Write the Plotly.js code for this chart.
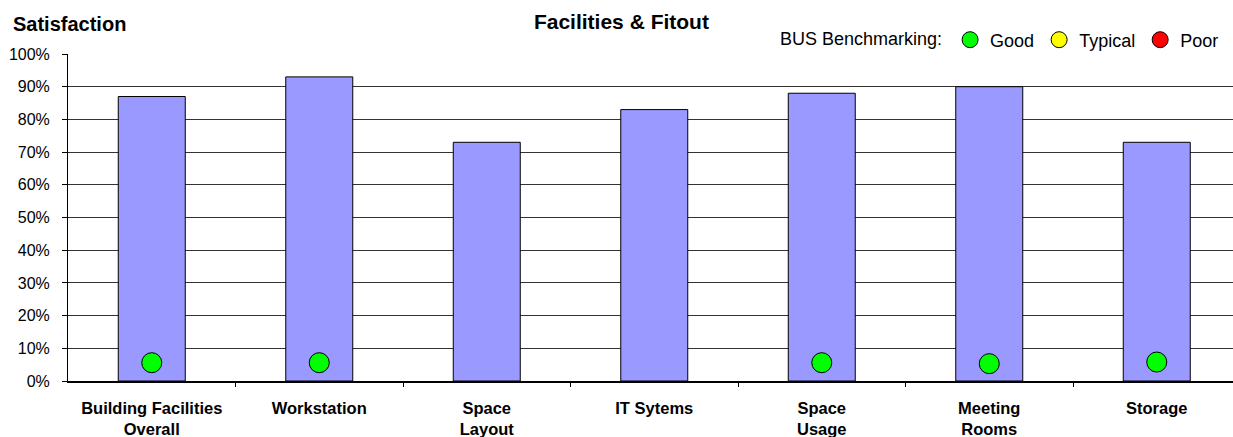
<!DOCTYPE html>
<html>
<head>
<meta charset="utf-8">
<script src="https://cdn.plot.ly/plotly-3.0.1.min.js"></script>
<style>html,body{margin:0;padding:0;background:#fff;}#chart{width:1233px;height:437px;}</style>
</head>
<body>
<div id="chart"></div>
<script>
const categories = ["Building Facilities<br>Overall", "Workstation", "Space<br>Layout", "IT Sytems", "Space<br>Usage", "Meeting<br>Rooms", "Storage"];
const satisfaction = [87, 93, 73, 83, 88, 90, 73];
const benchGood = [5.6, 5.6, null, null, 5.6, 5.3, 5.8];
const benchTypical = [null, null, null, null, null, null, null];
const benchPoor = [null, null, null, null, null, null, null];
const yTicks = [0, 10, 20, 30, 40, 50, 60, 70, 80, 90, 100];

const FONT = "Liberation Sans, Arial, sans-serif";
const idx = categories.map((c, i) => i);

const traces = [
  {
    type: "bar", x: idx, y: satisfaction, width: 0.4,
    marker: {color: "#9999FF", line: {color: "#000000", width: 1}},
    showlegend: false, hoverinfo: "skip"
  },
  {
    type: "scatter", mode: "markers", name: "Good", x: idx, y: benchGood,
    marker: {color: "#00FF00", size: 20, line: {color: "#000000", width: 1}},
    hoverinfo: "skip"
  },
  {
    type: "scatter", mode: "markers", name: "Typical", x: idx, y: benchTypical,
    marker: {color: "#FFFF00", size: 20, line: {color: "#000000", width: 1}},
    hoverinfo: "skip"
  },
  {
    type: "scatter", mode: "markers", name: "Poor", x: idx, y: benchPoor,
    marker: {color: "#FF0000", size: 20, line: {color: "#000000", width: 1}},
    hoverinfo: "skip"
  }
];

const layout = {
  width: 1233, height: 437,
  margin: {l: 68, r: 0, t: 54, b: 56, pad: 0},
  paper_bgcolor: "#ffffff", plot_bgcolor: "#ffffff",
  font: {family: FONT, color: "#000000", size: 16},
  title: {
    text: "Facilities & Fitout",
    font: {family: FONT, size: 21, weight: "bold", color: "#000000"},
    x: 0.504, xref: "container", xanchor: "center",
    y: 1 - 22/437, yref: "container", yanchor: "middle"
  },
  showlegend: true,
  legend: {
    orientation: "h",
    x: (1224 - 68)/1165, xref: "paper", xanchor: "right",
    y: 1 + 14/327, yanchor: "middle",
    font: {family: FONT, size: 18, color: "#000000"},
    title: {text: "BUS Benchmarking:", side: "left", font: {family: FONT, size: 18, color: "#000000"}},
    bgcolor: "rgba(0,0,0,0)", borderwidth: 0,
    itemwidth: 30, tracegroupgap: 0
  },
  xaxis: {
    type: "linear",
    range: [-0.5, -0.5 + 1165/167.5],
    tickmode: "array", tickvals: idx, ticktext: categories,
    tickfont: {family: FONT, size: 16.5, weight: "bold", color: "#000000"},
    showgrid: false, zeroline: false,
    showline: true, linecolor: "#000000", linewidth: 2,
    ticks: "", fixedrange: true,
    ticklabelstandoff: 11
  },
  xaxis2: {
    overlaying: "x", range: [-0.5, -0.5 + 1165/167.5],
    tickmode: "array", tickvals: [0.5, 1.5, 2.5, 3.5, 4.5, 5.5],
    showticklabels: false, ticks: "outside", ticklen: 5, tickcolor: "#000000", tickwidth: 1,
    showgrid: false, zeroline: false, showline: false, anchor: "y"
  },
  yaxis: {
    range: [0, 100],
    tickmode: "array", tickvals: yTicks, ticktext: yTicks.map(v => v + "%"),
    tickfont: {family: FONT, size: 16, color: "#000000"},
    showgrid: true, gridcolor: "#333333", gridwidth: 1,
    zeroline: false,
    showline: true, linecolor: "#000000", linewidth: 1,
    ticks: "outside", ticklen: 5, tickcolor: "#000000",
    ticklabelstandoff: 9,
    fixedrange: true
  },
  annotations: [
    {
      text: "Satisfaction", showarrow: false,
      xref: "paper", yref: "paper",
      x: (11 - 68)/1165, xanchor: "left",
      y: 1 + (54 - 24)/327, yanchor: "middle",
      font: {family: FONT, size: 20, weight: "bold", color: "#000000"}
    }
  ]
};

traces.push({type: "scatter", x: [0], y: [null], xaxis: "x2", yaxis: "y", showlegend: false, hoverinfo: "skip"});

Plotly.newPlot("chart", traces, layout, {displayModeBar: false, staticPlot: true});
</script>
</body>
</html>
